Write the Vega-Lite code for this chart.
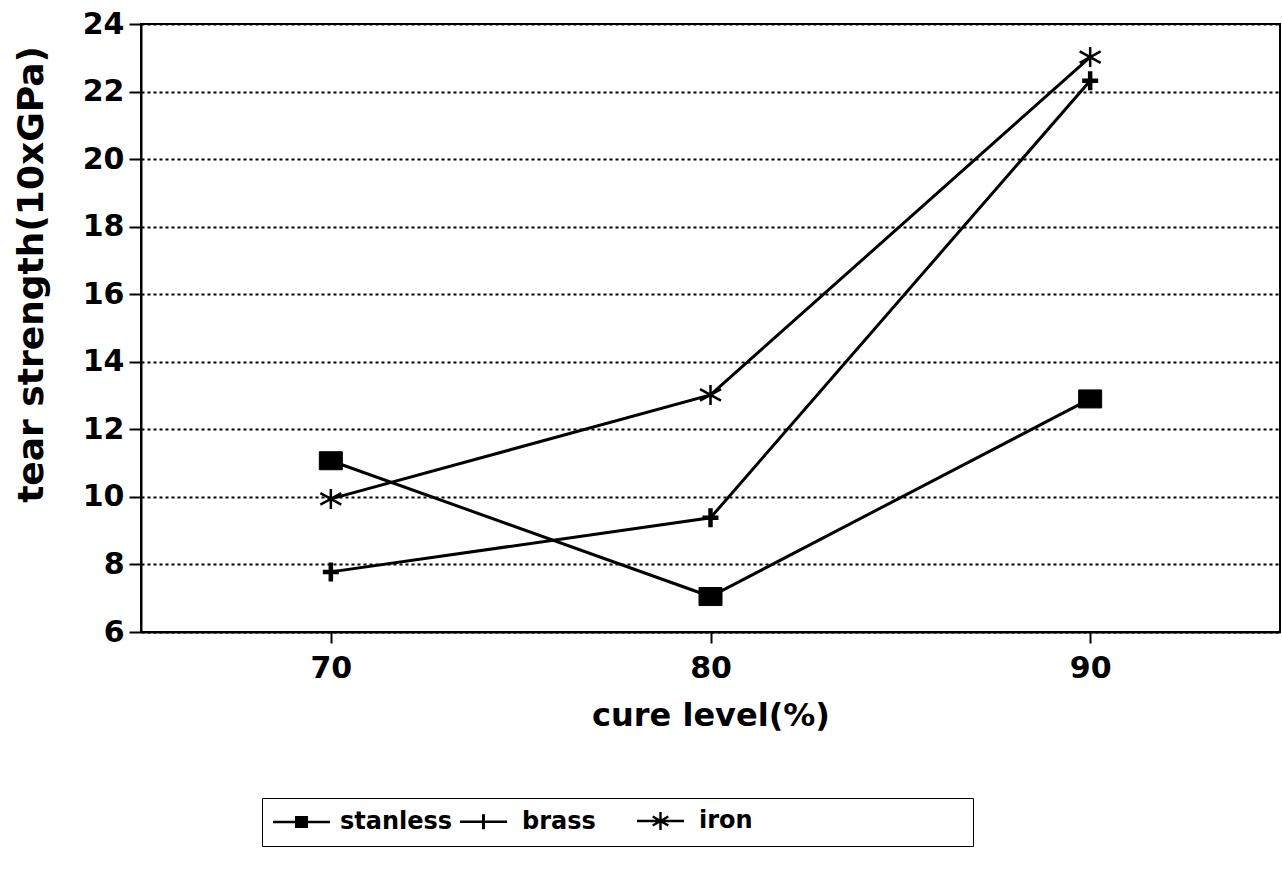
{
  "$schema": "https://vega.github.io/schema/vega-lite/v6.json",
  "autosize": {"type": "none"},
  "width": 1139,
  "height": 608,
  "padding": {"left": 141, "top": 24, "right": 2, "bottom": 242},
  "background": "white",
  "config": {
    "font": "DejaVu Sans",
    "view": {"stroke": "black", "strokeWidth": 2},
    "axis": {
      "domainColor": "black", "domainWidth": 2,
      "tickColor": "black", "tickWidth": 2,
      "labelColor": "black", "titleColor": "black",
      "labelFont": "DejaVu Sans", "titleFont": "DejaVu Sans",
      "labelFontWeight": "bold", "titleFontWeight": "bold"
    }
  },
  "data": {
    "values": [
      {"series": "stanless", "cure": 70, "strength": 11.07},
      {"series": "stanless", "cure": 80, "strength": 7.05},
      {"series": "stanless", "cure": 90, "strength": 12.9},
      {"series": "brass", "cure": 70, "strength": 7.78},
      {"series": "brass", "cure": 80, "strength": 9.38},
      {"series": "brass", "cure": 90, "strength": 22.32},
      {"series": "iron", "cure": 70, "strength": 9.94},
      {"series": "iron", "cure": 80, "strength": 13.02},
      {"series": "iron", "cure": 90, "strength": 23.02}
    ]
  },
  "encoding": {
    "x": {
      "field": "cure", "type": "quantitative",
      "scale": {"domain": [65, 95], "nice": false, "zero": false},
      "axis": {
        "values": [70, 80, 90], "grid": false,
        "tickSize": 11, "labelPadding": 10, "labelFontSize": 30,
        "title": "cure level(%)", "titleFontSize": 32,
        "titleBaseline": "alphabetic", "titleY": 93
      }
    },
    "y": {
      "field": "strength", "type": "quantitative",
      "scale": {"domain": [6, 24], "nice": false, "zero": false},
      "axis": {
        "values": [6, 8, 10, 12, 14, 16, 18, 20, 22, 24],
        "grid": true, "gridColor": "black", "gridDash": [3, 3], "gridWidth": 2, "gridOpacity": 1,
        "tickSize": 12, "labelPadding": 5, "labelFontSize": 30,
        "title": "tear strength(10xGPa)", "titleFontSize": 36,
        "titleAngle": 270, "titleAlign": "center", "titleBaseline": "alphabetic",
        "titleX": -99, "titleY": 250
      }
    }
  },
  "layer": [
    {
      "mark": {"type": "line", "color": "black", "strokeWidth": 3},
      "encoding": {"detail": {"field": "series"}, "order": {"field": "cure"}}
    },
    {
      "mark": {"type": "point", "filled": true, "fill": "black", "stroke": "black", "opacity": 1, "size": 100},
      "encoding": {
        "shape": {
          "field": "series", "type": "nominal",
          "scale": {
            "domain": ["stanless", "brass", "iron"],
            "range": [
              "M-2.3,-1.8H2.3V1.8H-2.3Z",
              "M-1.6,0H1.6M0,-1.9V1.9",
              "M0,-2V2M-2.1,-1.15L2.1,1.15M-2.1,1.15L2.1,-1.15"
            ]
          },
          "legend": null
        },
        "strokeWidth": {
          "field": "series", "type": "nominal",
          "scale": {"type": "ordinal", "domain": ["stanless", "brass", "iron"], "range": [1, 4.5, 2.5]},
          "legend": null
        }
      }
    },
    {
      "transform": [{"filter": "datum.series == 'none'"}],
      "mark": {"type": "point", "filled": true, "fill": "black", "stroke": "black", "strokeWidth": 2.5, "opacity": 1, "size": 400},
      "encoding": {
        "shape": {
          "field": "series", "type": "nominal",
          "scale": {
            "domain": ["stanless", "brass", "iron"],
            "range": [
              "M-2.85,-0.12H2.85V0.12H-2.85ZM-0.65,-0.6H0.65V0.6H-0.65Z",
              "M-2.35,-0.12H2.35V0.12H-2.35ZM-0.15,-0.75H0.15V0.75H-0.15Z",
              "M-2.35,-0.12H2.35V0.12H-2.35ZM-0.12,-0.9H0.12V0.9H-0.12ZM-0.72,-0.554L0.84,0.346L0.72,0.554L-0.84,-0.346ZM-0.84,0.346L0.72,-0.554L0.84,-0.346L-0.72,0.554Z"
            ]
          },
          "legend": {
            "title": null,
            "orient": "none", "legendX": 121, "legendY": 774,
            "direction": "horizontal", "columns": 3,
            "gridAlign": "each", "columnPadding": 2,
            "padding": 11,
            "strokeColor": "black",
            "symbolSize": 400, "symbolOffset": 16.5,
            "symbolStrokeWidth": 2.5, "symbolStrokeColor": "black", "symbolFillColor": "black",
            "labelOffset": 26.5, "labelFontSize": 24, "labelFont": "DejaVu Sans", "labelFontWeight": "bold", "labelColor": "black",
            "labelLimit": 600,
            "labelExpr": "datum.label == 'brass' ? 'brass\u00a0\u00a0\u00a0\u00a0\u200b' : datum.label == 'iron' ? 'iron\u00a0\u00a0\u00a0\u00a0\u00a0\u00a0\u00a0\u00a0\u00a0\u00a0\u00a0\u00a0\u00a0\u00a0\u00a0\u00a0\u00a0\u00a0\u00a0\u00a0\u00a0\u00a0\u00a0\u00a0\u00a0\u200b' : datum.label"
          }
        }
      }
    }
  ],
  "resolve": {"scale": {"shape": "independent", "strokeWidth": "independent"}, "legend": {"shape": "independent"}}
}
